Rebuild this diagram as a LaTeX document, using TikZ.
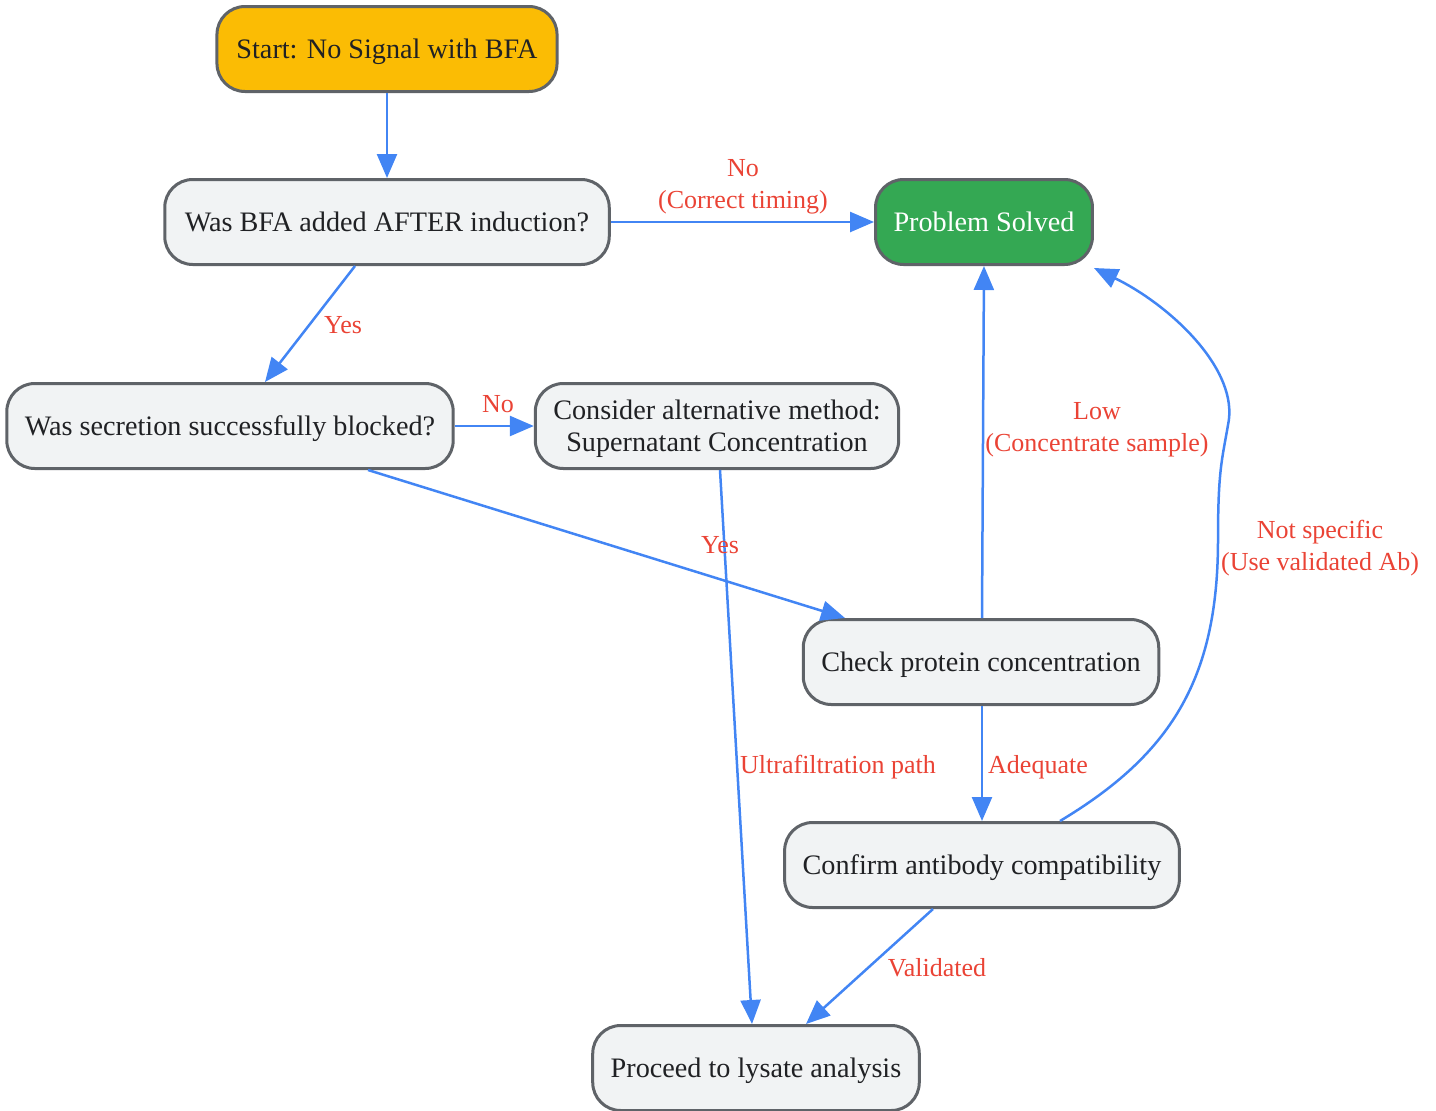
\documentclass[tikz,border=0pt]{standalone}
\usepackage{fontspec}
\setmainfont{Liberation Serif}
\usetikzlibrary{arrows.meta}
\definecolor{edgeblue}{HTML}{4285F4}
\definecolor{lblred}{HTML}{EA4335}
\definecolor{boxfill}{HTML}{F1F3F4}
\definecolor{boxline}{HTML}{5F6368}
\definecolor{boxtext}{HTML}{202124}
\definecolor{startfill}{HTML}{FBBC04}
\definecolor{donefill}{HTML}{34A853}
\begin{document}
\begin{tikzpicture}[x=1pt,y=-1pt,
    box/.style={draw=boxline, line width=3pt, rounded corners=28pt, fill=boxfill, text=boxtext,
        minimum height=85pt, inner xsep=18pt, text depth=0pt, align=center,
        font=\fontsize{28.2}{32}\selectfont},
    flow/.style={edgeblue, line width=2.5pt, -{Triangle[length=24pt,width=20pt]}},
    lbl/.style={text=lblred, align=center, text depth=0pt, font=\fontsize{26}{32}\selectfont}]
        \useasboundingbox (0,0) rectangle (1436,1111);
        % boxes
        \node[box, fill=startfill, inner xsep=19.5pt] (start) at (387,49) {Start: No Signal with BFA};
        \node[box, inner xsep=20pt] (after) at (387,222) {Was BFA added AFTER induction?};
        \node[box, fill=donefill, text=white] (solved) at (984,222) {Problem Solved};
        \node[box] (blocked) at (230,426) {Was secretion successfully blocked?};
        \node[box] (alt) at (717,426) {Consider alternative method:\\Supernatant Concentration};
        \node[box] (conc) at (981,662) {Check protein concentration};
        \node[box] (antibody) at (982,865) {Confirm antibody compatibility};
        \node[box] (lysate) at (756,1068) {Proceed to lysate analysis};

        % connectors
        \draw[flow] (start) -- (after);
        \draw[flow] (after.east) -- (solved.west);
        \draw[flow] ([xshift=-32pt]after.south) -- ([xshift=35pt]blocked.north);
        \draw[flow] (blocked.east) -- (alt.west);
        \draw[flow] ([xshift=138pt]blocked.south) -- ([xshift=-136pt]conc.north);
        \draw[flow] ([xshift=3pt]alt.south) -- ([xshift=-4pt]lysate.north);
        \draw[flow] ([xshift=1pt]conc.north) -- (solved.south);
        \draw[flow] ([xshift=1pt]conc.south) -- (antibody.north);
        \draw[flow] ([xshift=78pt]antibody.north) .. controls (1170,755) and (1218,680) .. (1218,540)
            .. controls (1218,470) and (1222,460) .. (1228,425)
            .. controls (1240,370) and (1170,305) .. ([yshift=-2pt]solved.south east);
        \draw[flow] ([xshift=-49pt]antibody.south) -- ([xshift=50pt]lysate.north);

        % edge labels
        \node[lbl] (lNoTiming) at (743,184) {No\\(Correct timing)};
        \node[lbl] (lYesBlock) at (343,325) {Yes};
        \node[lbl] (lNoBlock) at (498,404) {No};
        \node[lbl] (lYesConc) at (720,545) {Yes};
        \node[lbl] (lLow) at (1097,427) {Low\\(Concentrate sample)};
        \node[lbl] (lUltra) at (838,764) {Ultrafiltration path};
        \node[lbl] (lAdequate) at (1038,764) {Adequate};
        \node[lbl] (lNotSpec) at (1320,545) {Not specific\\(Use validated Ab)};
        \node[lbl] (lValid) at (937,967) {Validated};
\end{tikzpicture}
\end{document}
